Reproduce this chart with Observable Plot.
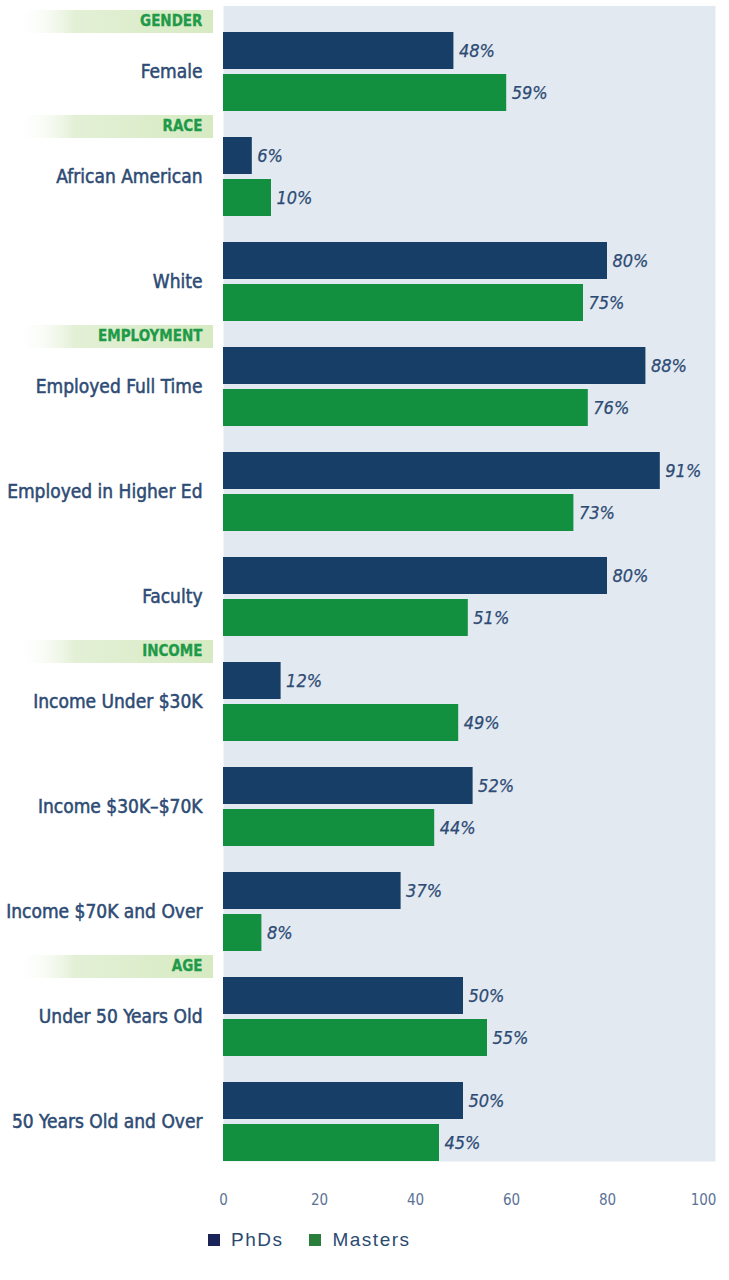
<!DOCTYPE html>
<html>
<head>
<meta charset="utf-8">
<script src="https://cdn.jsdelivr.net/npm/d3@7"></script>
<script src="https://cdn.jsdelivr.net/npm/@observablehq/plot@0.6"></script>
<style>
  body { margin: 0; background: #fff; }
  #chart svg { display: block; }
  #chart g[aria-label="fy-axis tick label"] text { stroke: #2d4b74; stroke-width: 0.5px; }
  .legend { margin-top: 8px; padding-left: 208px; font-family: "Liberation Sans", Arial, sans-serif; font-size: 19px; letter-spacing: 1.5px; color: #2b4a70; display: flex; align-items: center; }
  .legend span.sw { display: inline-block; width: 12px; height: 12px; margin-right: 11px; }
  .legend span.item { margin-right: 26px; display: inline-flex; align-items: center; }
</style>
</head>
<body>
<div id="chart"></div>
<div class="legend">
  <span class="item"><span class="sw" style="background:#1b2458"></span>PhDs</span>
  <span class="item"><span class="sw" style="background:#2a7d3a"></span>Masters</span>
</div>
<script>
const categories = ["Female", "African American", "White", "Employed Full Time", "Employed in Higher Ed", "Faculty", "Income Under $30K", "Income $30K–$70K", "Income $70K and Over", "Under 50 Years Old", "50 Years Old and Over"];
const phds    = [48, 6, 80, 88, 91, 80, 12, 52, 37, 50, 50];
const masters = [59, 10, 75, 76, 73, 51, 49, 44, 8, 55, 45];
const series = ["PhDs", "Masters"];
const sectionNames = ["GENDER", "RACE", "EMPLOYMENT", "INCOME", "AGE"];
const sectionStarts = ["Female", "African American", "Employed Full Time", "Income Under $30K", "Under 50 Years Old"];
const xTicks = [0, 20, 40, 60, 80, 100];

const rows = [];
categories.forEach((c, i) => {
  rows.push({category: c, series: "PhDs", value: phds[i]});
  rows.push({category: c, series: "Masters", value: masters[i]});
});
const headers = sectionNames.map((s, i) => ({name: s, category: sectionStarts[i]}));

const condensed = "'Liberation Sans Narrow', 'DejaVu Sans Condensed', 'Roboto Condensed', sans-serif";
const textBlue = "#2d4b74";

const chart = Plot.plot({
  width: 729,
  height: 1221,
  marginTop: 32,
  marginBottom: 60,
  marginLeft: 223,
  marginRight: 26,
  style: {fontFamily: condensed, background: "transparent"},
  x: {domain: [0, 100], axis: null},
  y: {domain: series, paddingInner: 5 / 42, paddingOuter: 0, round: false, axis: null},
  fy: {domain: categories, paddingInner: 26 / 105, paddingOuter: 0, round: false, axis: null, label: null},
  color: {domain: series, range: ["#163e66", "#12903f"]},
  marks: [
    Plot.frame({fill: "#e3e9f1", stroke: "none", insetTop: -26.6, insetRight: -12}),
    Plot.rect(headers, {fy: "category", x1: 0, x2: 0, insetLeft: -208, insetRight: 10, insetTop: -22, insetBottom: 78, fill: "url(#hdrGrad)"}),
    Plot.text(headers, {fy: "category", text: "name", frameAnchor: "top-left", lineAnchor: "middle", textAnchor: "end", dx: -21, dy: -11, fill: "#1f9a48", stroke: "#1f9a48", strokeWidth: 0.3, fontWeight: "bold", fontSize: 15, fontFamily: condensed}),
    Plot.barX(rows, {fy: "category", y: "series", x: "value", fill: "series"}),
    Plot.text(rows, {fy: "category", y: "series", x: "value", text: d => d.value + "%", textAnchor: "start", dx: 5, fill: textBlue, stroke: textBlue, strokeWidth: 0.25, fontStyle: "italic", fontSize: 18, fontFamily: condensed}),
    Plot.axisFy({anchor: "left", tickSize: 0, tickPadding: 21, fontSize: 19, fontFamily: condensed, color: textBlue, label: null}),
    Plot.axisX({anchor: "bottom", ticks: xTicks, tickSize: 0, tickPadding: 33, fontSize: 15, fontFamily: condensed, color: "#5b7397", label: null})
  ]
});

// gradient for section header bands
const ns = "http://www.w3.org/2000/svg";
const defs = document.createElementNS(ns, "defs");
defs.innerHTML = `<linearGradient id="hdrGrad" x1="0" x2="1" y1="0" y2="0">
  <stop offset="0" stop-color="#ffffff" stop-opacity="0"/>
  <stop offset="0.3" stop-color="#e3f0d6"/>
  <stop offset="1" stop-color="#d6eac2"/>
</linearGradient>`;
chart.insertBefore(defs, chart.firstChild);
document.getElementById("chart").appendChild(chart);
</script>
</body>
</html>
